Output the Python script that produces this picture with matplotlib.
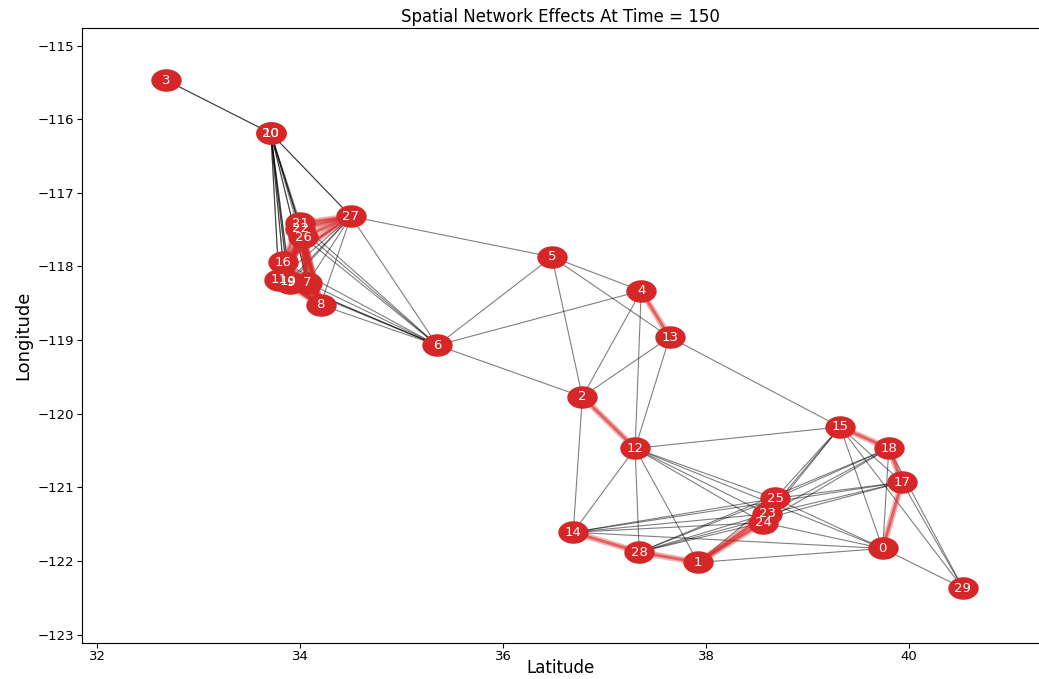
import matplotlib.pyplot as plt
import numpy as np
from matplotlib.path import Path

# node positions (latitude, longitude)
node_ids = [0, 1, 2, 3, 4, 5, 6, 7, 8, 9, 10, 11, 12, 13, 14,
            15, 16, 17, 18, 19, 20, 21, 22, 23, 24, 25, 26, 27, 28, 29]
lat = [39.74, 37.92, 36.78, 32.68, 37.36, 36.48, 35.35, 34.07, 34.20, 33.90,
       33.71, 33.79, 37.30, 37.64, 36.69, 39.32, 33.83, 39.93, 39.80, 33.88,
       33.71, 34.00, 34.00, 38.60, 38.56, 38.68, 34.03, 34.50, 37.34, 40.53]
lon = [-121.83, -122.02, -119.77, -115.47, -118.33, -117.87, -119.07, -118.22, -118.52, -118.22,
       -116.19, -118.18, -120.47, -118.96, -121.61, -120.18, -117.94, -120.93, -120.47, -118.21,
       -116.19, -117.41, -117.49, -121.36, -121.48, -121.15, -117.60, -117.32, -121.88, -122.37]

# ordinary links
gray_edges = [
    (3, 10), (3, 20), (10, 27), (20, 27),
    (10, 16), (10, 11), (10, 19), (10, 9), (10, 7), (10, 21), (10, 22), (10, 26),
    (20, 16), (20, 11), (20, 19), (20, 9), (20, 7), (20, 26), (20, 8),
    (27, 5), (27, 6), (27, 8), (27, 7), (27, 16), (27, 11), (27, 19), (27, 9),
    (21, 6), (22, 6), (26, 6), (16, 6), (11, 6), (19, 6), (9, 6), (7, 6), (8, 6),
    (6, 5), (6, 4), (6, 2),
    (5, 4), (5, 13), (5, 2),
    (4, 2), (4, 12), (13, 2), (13, 12), (13, 15),
    (2, 14), (12, 15), (12, 14), (12, 28), (12, 1), (12, 24), (12, 23), (12, 0), (12, 25),
    (15, 25), (15, 23), (15, 24), (15, 0), (15, 17), (15, 29),
    (18, 0), (18, 25), (18, 23), (18, 24), (18, 28),
    (17, 14), (17, 28), (17, 29), (17, 25), (17, 23),
    (14, 25), (14, 23), (14, 0), (14, 24),
    (28, 23), (28, 24), (28, 25),
    (1, 0), (1, 25), (0, 29), (0, 24), (0, 25), (18, 29),
]

# links carrying spatial effects
red_edges = [
    (14, 28), (28, 1), (1, 24), (1, 23), (2, 12), (4, 13), (15, 18), (18, 17), (17, 0),
    (27, 21), (27, 22), (27, 26), (27, 16),
    (21, 7), (22, 7), (26, 7), (21, 8), (22, 8), (26, 8), (16, 7), (16, 8),
    (11, 7), (19, 7), (9, 7), (11, 8), (19, 8), (9, 8), (21, 16), (26, 11), (22, 19),
    (21, 9), (26, 16), (7, 8),
]

pos = {n: (x, y) for n, x, y in zip(node_ids, lat, lon)}

# slightly wide ellipse used as node marker
t = np.linspace(0, 2 * np.pi, 60)
ellipse = Path(np.column_stack([1.35 * np.cos(t), np.sin(t)]), closed=True)

fig = plt.figure(figsize=(10.39, 6.79), dpi=100)
ax = fig.add_axes([0.079, 0.0535, 0.921, 0.9053])

for a, b in gray_edges:
    ax.plot([pos[a][0], pos[b][0]], [pos[a][1], pos[b][1]], color='black',
            alpha=0.5, lw=0.8, zorder=1)
for a, b in red_edges:
    # wide faint stroke under a narrower solid one
    xs = [pos[a][0], pos[b][0]]
    ys = [pos[a][1], pos[b][1]]
    ax.plot(xs, ys, color='#d62728', alpha=0.35, lw=4.5, zorder=2, solid_capstyle='round')
    ax.plot(xs, ys, color='#d62728', alpha=0.6, lw=2.0, zorder=2, solid_capstyle='round')

ax.scatter(lat, lon, s=480, marker=ellipse, color='#d62728', zorder=3, linewidths=0)
for n, x, y in zip(node_ids, lat, lon):
    ax.text(x, y, str(n), color='white', fontsize=9.5, ha='center', va='center', zorder=4)

ax.set_xlim(31.85, 41.28)
ax.set_ylim(-123.11, -114.76)
ax.set_xticks([32, 34, 36, 38, 40])
ax.set_yticks([-115, -116, -117, -118, -119, -120, -121, -122, -123])
ax.tick_params(labelsize=9.5, pad=2)
ax.spines['right'].set_visible(False)
ax.set_title("Spatial Network Effects At Time = 150", fontsize=12, pad=4)
ax.set_xlabel("Latitude", fontsize=12, labelpad=-3)
ax.set_ylabel("Longitude", fontsize=13, labelpad=4)
fig.savefig('out.png', dpi=100)
